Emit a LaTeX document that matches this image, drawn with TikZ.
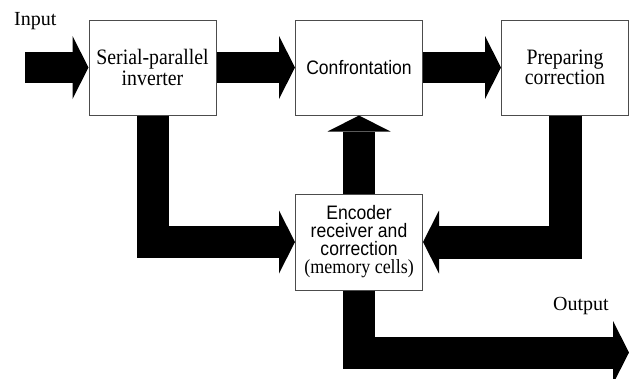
\documentclass[tikz,border=0pt]{standalone}
\usepackage{fontspec}
\setmainfont{Liberation Serif}
\setsansfont{Liberation Sans}
% block texts are set slightly narrow
\newfontfamily\boxserif{Liberation Serif}[FakeStretch=0.9]
\newfontfamily\boxsans{Liberation Sans}[FakeStretch=0.9]
\usetikzlibrary{arrows.meta}
\begin{document}
\begin{tikzpicture}[x=1pt,y=-1pt,
  block/.style={draw=black!70, line width=1pt, fill=white,
    minimum width=127pt, minimum height=95pt, inner sep=0pt, align=center},
  serifbox/.style={font=\boxserif\fontsize{22}{18}\selectfont},
  sansbox/.style={font=\boxsans\fontsize{19.5}{18}\selectfont},
  flowarrow/.style={line width=31pt,
    -{Triangle[length=16pt,width=63pt,line width=0pt]}},
  iolabel/.style={font=\fontsize{20}{18}\selectfont, inner sep=0pt, anchor=base west}]
\useasboundingbox (0,0) rectangle (629,378);

% processing blocks
\node[block, serifbox] (spi)  at (152.5,67.5) {Serial-parallel\\inverter};
\node[block, sansbox]  (conf) at (359,67.5)   {Confrontation};
\node[block, serifbox] (prep) at (565,67.5)   {Preparing\\correction};
\node[block, sansbox, minimum height=96pt] (enc) at (359,242)
  {Encoder\\receiver and\\correction\\{\boxserif\fontsize{20}{18}\selectfont (memory cells)}};

% free ends of the data path
\coordinate (in)  at (25,67.5);
\coordinate (out) at (629,352.5);

% block arrows
\draw[flowarrow] (in) -- (spi.west);
\draw[flowarrow] (spi.east) -- (conf.west);
\draw[flowarrow] (conf.east) -- (prep.west);
\draw[flowarrow, line width=32pt] (spi.south) |- (enc.west);
\draw[flowarrow, line width=32pt] (enc.north) -- (conf.south);
\draw[flowarrow, line width=33pt] (prep.south) |- (enc.east);
\draw[flowarrow, line width=32pt] (enc.south) |- (out);

% labels
\node[iolabel] (inlbl)  at (14,25)  {Input};
\node[iolabel] (outlbl) at (553,310) {Output};
\end{tikzpicture}
\end{document}
